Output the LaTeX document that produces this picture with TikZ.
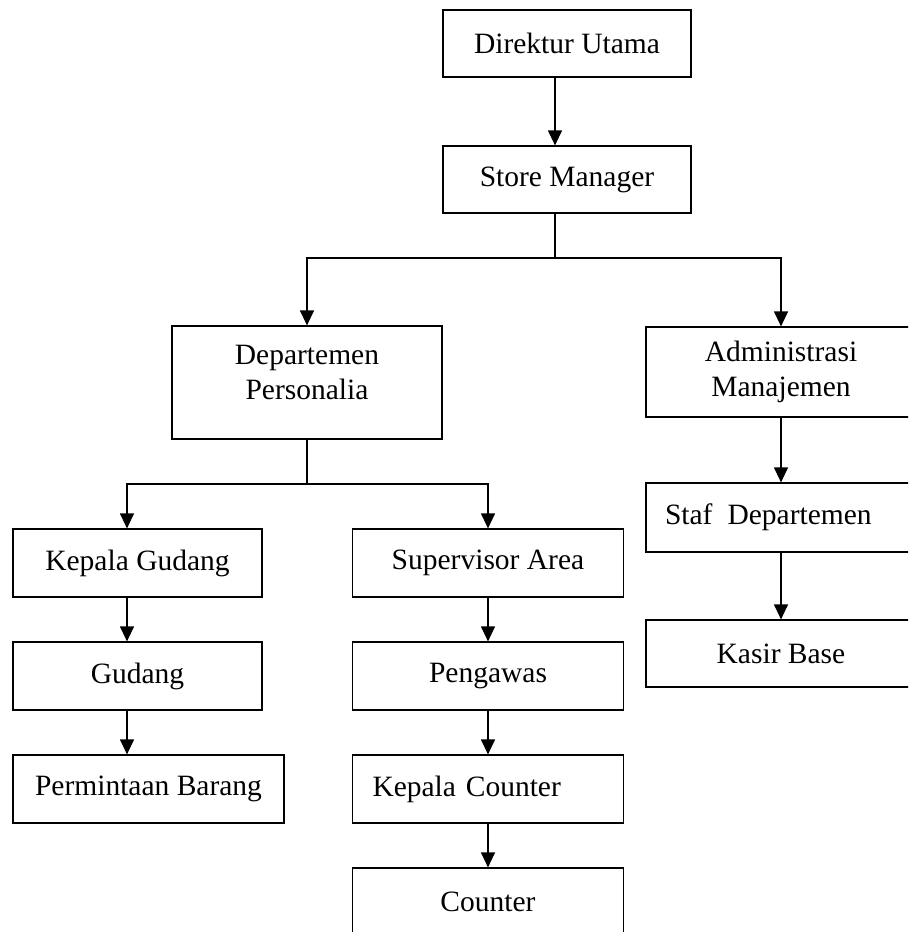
\documentclass[tikz,border=0pt]{standalone}
\usepackage{fontspec}
\setmainfont{Liberation Serif}
\usetikzlibrary{arrows.meta}

\tikzset{
  box/.style={draw, line width=1.2pt, inner sep=0pt, minimum height=68pt},
  arr/.style={-{Triangle[length=15pt,width=14pt]}, line width=1.2pt},
  line/.style={line width=1.2pt}
}

\begin{document}
\begin{tikzpicture}[x=1pt, y=-1pt, font=\fontsize{29.5pt}{35pt}\selectfont]
            \useasboundingbox (0,0) rectangle (908,932);
            \clip (0,0) rectangle (908,932);

            % columns and branch points
            \coordinate (c0) at (555,0);
            \coordinate (c1) at (127,0);
            \coordinate (split1) at (555,258);
            \coordinate (split2) at (307,484);

            \node[box, minimum width=248pt, minimum height=67pt] (du) at (567,43.5) {Direktur Utama};
            \node[box, minimum width=248pt, minimum height=67pt] (sm) at (567,179.5) {Store Manager};

            \node[box, minimum width=270pt, minimum height=113pt] (dp) at (307,382.5) {};
            \node[align=center] (dptext) at ([yshift=10pt]dp.center) {Departemen\\Personalia};
            \node[box, minimum width=270pt, minimum height=90pt, align=center] (am) at (781,372) {Administrasi\\Manajemen};

            \node[box, minimum width=249pt] (kg) at (137.5,563) {Kepala Gudang};
            \node[box, minimum width=249pt] (gd) at (137.5,676) {Gudang};
            \node[box, minimum width=271pt] (pb) at (148.5,789) {Permintaan Barang};

            \node[box, minimum width=271pt] (sa) at (488,563) {Supervisor Area};
            \node[box, minimum width=271pt] (pg) at (488,676) {Pengawas};
            \node[box, text width=231pt, inner xsep=20pt, align=left] (kc) at (488,789) {Kepala Counter};
            \node[box, minimum width=271pt] (ct) at (488,902) {Counter};

            \node[box, text width=232pt, inner xsep=19pt, minimum height=69pt, align=left] (sd) at (781,517.5) {Staf\hspace{15pt}Departemen};
            \node[box, minimum width=270pt, minimum height=67pt] (kb) at (781,653.5) {Kasir Base};

            \draw[arr] (du.south -| c0) -- (sm.north -| c0);
            \draw[line] (sm.south -| c0) -- (split1);
            \draw[arr] (split1) -| (dp.north);
            \draw[arr] (split1) -| (am.north);

            \draw[line] (dp.south) -- (split2);
            \draw[arr] (split2) -| (kg.north -| c1);
            \draw[arr] (split2) -| (sa.north);

            \draw[arr] (kg.south -| c1) -- (gd.north -| c1);
            \draw[arr] (gd.south -| c1) -- (pb.north -| c1);

            \draw[arr] (sa.south) -- (pg.north);
            \draw[arr] (pg.south) -- (kc.north);
            \draw[arr] (kc.south) -- (ct.north);

            \draw[arr] (am.south) -- (sd.north);
            \draw[arr] (sd.south) -- (kb.north);
        \end{tikzpicture}
\end{document}
